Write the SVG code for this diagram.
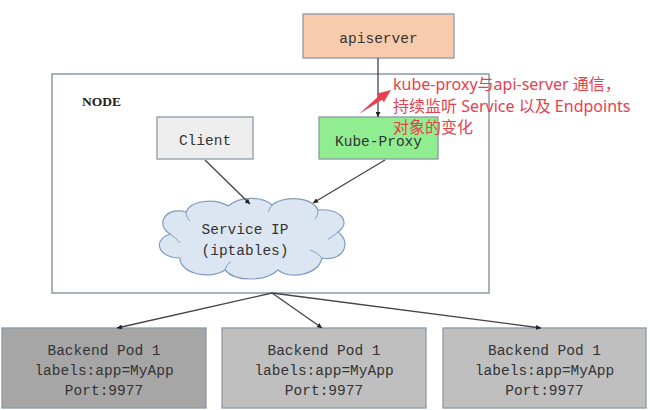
<svg xmlns="http://www.w3.org/2000/svg" width="650" height="410" viewBox="0 0 650 410">
<style>
.mono{font-family:"Liberation Mono","DejaVu Sans Mono",monospace;font-size:14.5px;fill:#333;text-anchor:middle}
.box{stroke:#8C99A6;stroke-width:1.3}
.conn{stroke:#444;stroke-width:1.3;fill:none}
.red{font-family:"Noto Sans","Noto Sans CJK SC",sans-serif;font-size:16px;fill:#E8404E}
</style>
<defs>
<marker id="ah" viewBox="0 0 10 10" refX="10" refY="5" markerWidth="5" markerHeight="5" orient="auto" markerUnits="userSpaceOnUse">
<path d="M0,0 L10,5 L0,10 Z" fill="#222"/>
</marker>
</defs>
<rect width="650" height="410" fill="#fff"/>
<g id="node-box">
<rect x="52" y="74" width="437" height="219" fill="#fff" stroke="#8C99A6" stroke-width="1.5"/>
<text x="82" y="106" font-family="Liberation Serif,serif" font-weight="bold" font-size="13.5" fill="#222">NODE</text>
</g>
<g id="apiserver">
<rect class="box" x="303" y="14" width="151" height="44" fill="#F8CBAD"/>
<text class="mono" x="378.5" y="43">apiserver</text>
</g>
<g id="client">
<rect class="box" x="157" y="117" width="96" height="42" fill="#EEEEEE"/>
<text class="mono" x="205" y="145">Client</text>
</g>
<g id="kube-proxy">
<rect class="box" x="319" y="117" width="119" height="42" fill="#90EE90"/>
<text class="mono" x="378.5" y="146">Kube-Proxy</text>
</g>
<g id="service-ip">
<path d="M180,258 C158,258 152,240 170,234 C155,225 165,206 186,212 C191,200 215,198 228,206 C240,196 262,196 272,205 C285,195 312,197 318,210 C340,208 352,222 338,232 C352,242 344,262 322,258 C318,275 290,280 278,270 C265,282 235,282 225,270 C210,280 180,274 180,258 Z" fill="#DCE6F2" stroke="#7F9DBE" stroke-width="1.2"/>
<path d="M170,234 C174,237 178,240 180,243 M186,212 C186,216 188,219 190,221 M272,205 C270,208 269,210 268,212 M318,210 C318,214 317,217 315,219 M338,232 C334,235 331,238 328,239 M322,258 C318,254 314,251 310,250 M225,270 C226,266 228,263 231,262" fill="none" stroke="#7F9DBE" stroke-width="1"/>
<text class="mono" x="245" y="234">Service IP</text>
<text class="mono" x="245" y="255">(iptables)</text>
</g>
<g id="pod1">
<rect class="box" x="2" y="328" width="204" height="80" fill="#A6A6A6"/>
<text class="mono" x="104" y="355">Backend Pod 1</text>
<text class="mono" x="104" y="375">labels:app=MyApp</text>
<text class="mono" x="104" y="395">Port:9977</text>
</g>
<g id="pod2">
<rect class="box" x="222" y="328" width="204" height="80" fill="#BFBFBF"/>
<text class="mono" x="324" y="355">Backend Pod 1</text>
<text class="mono" x="324" y="375">labels:app=MyApp</text>
<text class="mono" x="324" y="395">Port:9977</text>
</g>
<g id="pod3">
<rect class="box" x="443" y="328" width="203" height="80" fill="#BFBFBF"/>
<text class="mono" x="544.5" y="355">Backend Pod 1</text>
<text class="mono" x="544.5" y="375">labels:app=MyApp</text>
<text class="mono" x="544.5" y="395">Port:9977</text>
</g>
<g id="connectors">
<line class="conn" x1="378" y1="58" x2="378" y2="117" marker-end="url(#ah)"/>
<line class="conn" x1="205" y1="160" x2="250" y2="204" marker-end="url(#ah)"/>
<line class="conn" x1="385" y1="160" x2="313" y2="203" marker-end="url(#ah)"/>
<line class="conn" x1="272" y1="293" x2="117" y2="328" marker-end="url(#ah)"/>
<line class="conn" x1="272" y1="293" x2="322" y2="328" marker-end="url(#ah)"/>
<line class="conn" x1="272" y1="293" x2="541" y2="328" marker-end="url(#ah)"/>
</g>
<g id="annotation">
<polygon points="359,114 379.1,95.8 377.3,93.4 391,90 383.9,102.2 382.1,99.8" fill="#E8404E"/>
<text class="red" x="393" y="90">kube-proxy与api-server 通信，</text>
<text class="red" x="393" y="112">持续监听 Service 以及 Endpoints</text>
<text class="red" x="393" y="133">对象的变化</text>
</g>
</svg>
